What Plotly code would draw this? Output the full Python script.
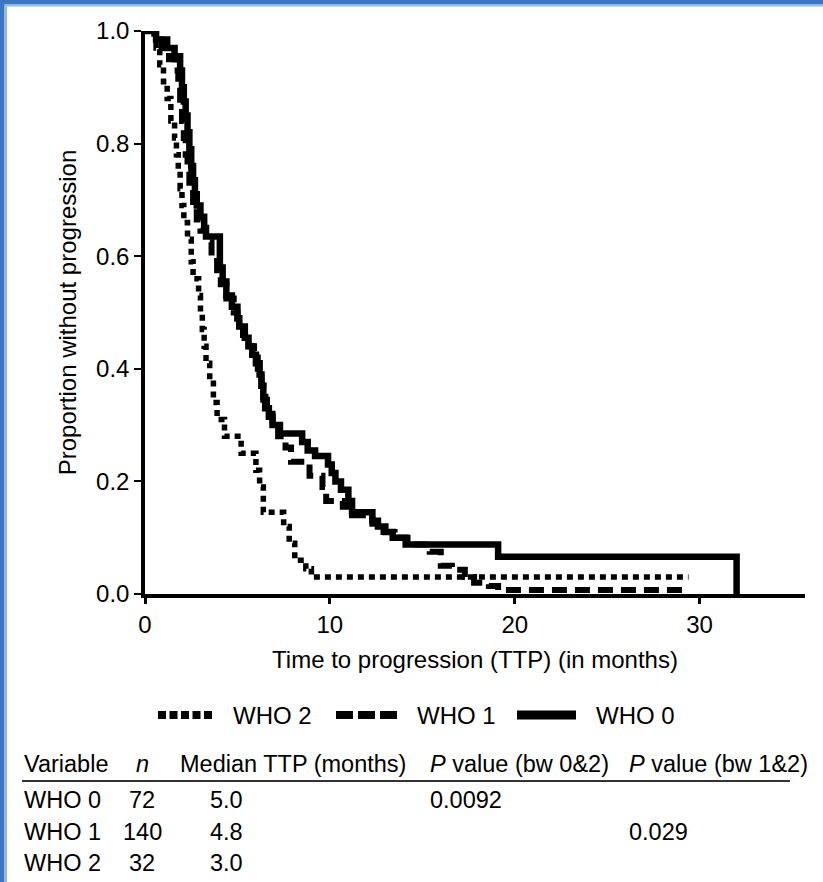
import plotly.graph_objects as go

# ---------------- data ----------------
who0_t = [0, 0.6, 1.2, 1.6, 1.9, 2.0, 2.1, 2.2, 2.3, 2.4, 2.5, 2.6, 2.7, 2.8, 3.0, 3.2, 3.3,
          4.05, 4.2, 4.4, 4.7, 5.0, 5.1, 5.4, 5.6, 5.8, 6.0, 6.2, 6.3, 6.4, 6.5, 6.7, 6.9, 7.3,
          8.5, 8.8, 9.2, 9.9, 10.1, 10.3, 10.6, 11.0, 11.2, 12.3, 12.6, 13.0, 13.4, 14.1, 19.1, 32.0]
who0_s = [1.0, 0.985, 0.97, 0.955, 0.93, 0.90, 0.875, 0.85, 0.82, 0.79, 0.76, 0.735, 0.71, 0.69, 0.67, 0.65, 0.635,
          0.58, 0.555, 0.53, 0.51, 0.49, 0.475, 0.455, 0.44, 0.425, 0.41, 0.39, 0.37, 0.35, 0.33, 0.315, 0.30, 0.285,
          0.27, 0.255, 0.245, 0.23, 0.215, 0.20, 0.185, 0.165, 0.145, 0.13, 0.12, 0.11, 0.10, 0.088, 0.066, 0.0]

who1_t = [0, 0.5, 0.9, 1.3, 1.6, 1.8, 1.9, 2.0, 2.1, 2.2, 2.3, 2.4, 2.6, 2.8, 3.0, 3.3, 3.6, 3.9, 4.1, 4.4,
          4.8, 5.0, 5.3, 5.6, 5.9, 6.1, 6.3, 6.4, 6.6, 6.9, 7.2, 7.6, 7.9, 8.9, 9.6, 9.8, 10.7, 11.2, 12.3,
          12.9, 13.5, 14.2, 15.4, 16.0, 16.6, 17.3, 17.8, 18.6, 19.1, 29.2]
who1_s = [1.0, 0.985, 0.97, 0.95, 0.93, 0.90, 0.87, 0.84, 0.81, 0.78, 0.75, 0.72, 0.69, 0.665, 0.645, 0.625, 0.60, 0.575, 0.55, 0.525,
          0.50, 0.48, 0.46, 0.44, 0.42, 0.40, 0.37, 0.345, 0.32, 0.30, 0.28, 0.26, 0.235, 0.21, 0.19, 0.165, 0.155, 0.14, 0.125,
          0.11, 0.10, 0.088, 0.075, 0.05, 0.043, 0.03, 0.02, 0.014, 0.007, 0.007]

who2_t = [0, 0.6, 0.8, 1.0, 1.2, 1.4, 1.6, 1.7, 1.8, 1.9, 2.0, 2.1, 2.3, 2.5, 2.6, 2.9, 3.0, 3.1, 3.2, 3.3,
          3.5, 3.7, 3.9, 4.3, 5.2, 6.0, 6.2, 6.4, 7.5, 7.8, 8.1, 8.7, 9.0, 29.4]
who2_s = [1.0, 0.97, 0.94, 0.91, 0.88, 0.84, 0.81, 0.78, 0.75, 0.72, 0.69, 0.66, 0.63, 0.59, 0.56, 0.53, 0.50, 0.47, 0.44, 0.41,
          0.38, 0.34, 0.31, 0.28, 0.25, 0.22, 0.19, 0.145, 0.12, 0.09, 0.06, 0.045, 0.03, 0.03]

x_ticks = [0, 10, 20, 30]
y_ticks = [0.0, 0.2, 0.4, 0.6, 0.8, 1.0]

legend_names = ["WHO 2", "WHO 1", "WHO 0"]

table_header = ["Variable", "<i>n</i>", "Median TTP (months)", "<i>P</i> value (bw 0&2)", "<i>P</i> value (bw 1&2)"]
table_variable = ["WHO 0", "WHO 1", "WHO 2"]
table_n = ["72", "140", "32"]
table_median = ["5.0", "4.8", "3.0"]
table_p02 = ["0.0092", "", ""]
table_p12 = ["", "0.029", ""]

# ---------------- layout geometry ----------------
W, H = 823, 882
ML, MR, MT, MB = 145, 18, 31, 288
PW = W - ML - MR
PH = H - MT - MB
FONT = "Liberation Sans, Arial, sans-serif"


def px(xp):
    return (xp - ML) / PW


def py(yp):
    return (H - MB - yp) / PH


fig = go.Figure()

fig.add_trace(go.Scatter(x=who0_t, y=who0_s, mode="lines", name=legend_names[2],
                         line=dict(color="black", width=6.5, shape="hv"), showlegend=False))
fig.add_trace(go.Scatter(x=who1_t, y=who1_s, mode="lines", name=legend_names[1],
                         line=dict(color="black", width=6, shape="hv", dash="15px,8px"), showlegend=False))
fig.add_trace(go.Scatter(x=who2_t, y=who2_s, mode="lines", name=legend_names[0],
                         line=dict(color="black", width=5.5, shape="hv", dash="6px,5px"), showlegend=False))

shapes = []
annotations = []

# blue frame (top & left)
shapes.append(dict(type="rect", xref="paper", yref="paper", x0=px(0), x1=px(W), y0=py(0), y1=py(4),
                   fillcolor="#3b76c3", line=dict(width=0), layer="above"))
shapes.append(dict(type="rect", xref="paper", yref="paper", x0=px(4.5), x1=px(W), y0=py(4), y1=py(6.5),
                   fillcolor="#95b4e0", line=dict(width=0), layer="above"))
shapes.append(dict(type="rect", xref="paper", yref="paper", x0=px(0), x1=px(4.5), y0=py(0), y1=py(H),
                   fillcolor="#3b76c3", line=dict(width=0), layer="above"))
shapes.append(dict(type="rect", xref="paper", yref="paper", x0=px(4.5), x1=px(7), y0=py(6.5), y1=py(H),
                   fillcolor="#95b4e0", line=dict(width=0), layer="above"))

# legend (manual)
LEG_Y = 715
leg_specs = [
    (158, 214, 8, "8px,3.5px", 231),
    (336, 398, 8, "17px,5px", 415),
    (517, 576, 9, "solid", 594),
]
for (x0, x1, wdt, dsh, tx), name in zip(leg_specs, legend_names):
    shapes.append(dict(type="line", xref="paper", yref="paper", x0=px(x0), x1=px(x1),
                       y0=py(LEG_Y), y1=py(LEG_Y), line=dict(color="black", width=wdt, dash=dsh)))
    annotations.append(dict(xref="paper", yref="paper", x=px(tx), y=py(LEG_Y), text=name,
                            showarrow=False, xanchor="left", yanchor="middle",
                            font=dict(size=24, color="black", family=FONT)))

# table
TF = 23.5
col_x = [22, 142, 178, 428, 627]
col_anchor = ["left", "center", "left", "left", "left"]
HEAD_Y = 764
for txt, cx, anc in zip(table_header, col_x, col_anchor):
    annotations.append(dict(xref="paper", yref="paper", x=px(cx), y=py(HEAD_Y), text=txt,
                            showarrow=False, xanchor=anc, yanchor="middle",
                            font=dict(size=TF, color="black", family=FONT)))
shapes.append(dict(type="line", xref="paper", yref="paper", x0=px(22), x1=px(790),
                   y0=py(781), y1=py(781), line=dict(color="#333333", width=2)))

row_y = [800, 832, 863]
row_cols = [(22, "left"), (142, "center"), (226, "center"), (428, "left"), (627, "left")]
for i, ry in enumerate(row_y):
    vals = [table_variable[i], table_n[i], table_median[i], table_p02[i], table_p12[i]]
    for v, (cx, anc) in zip(vals, row_cols):
        if v == "":
            continue
        annotations.append(dict(xref="paper", yref="paper", x=px(cx), y=py(ry), text=v,
                                showarrow=False, xanchor=anc, yanchor="middle",
                                font=dict(size=TF, color="black", family=FONT)))

fig.update_layout(
    width=W, height=H,
    margin=dict(l=ML, r=MR, t=MT, b=MB, pad=0),
    paper_bgcolor="white", plot_bgcolor="white",
    font=dict(family=FONT, size=24, color="black"),
    shapes=shapes, annotations=annotations,
    showlegend=False,
    xaxis=dict(range=[0, 35.7], tickvals=x_ticks, ticktext=[str(v) for v in x_ticks],
               showgrid=False, zeroline=False, showline=True, linecolor="black", linewidth=3.5,
               ticks="outside", ticklen=6, tickwidth=2.5, tickcolor="black",
               tickfont=dict(size=24, family=FONT, color="black"),
               title=dict(text="Time to progression (TTP) (in months)", standoff=16,
                          font=dict(size=24, family=FONT, color="black"))),
    yaxis=dict(range=[0, 1], tickvals=y_ticks, ticktext=["%.1f" % v for v in y_ticks],
               showgrid=False, zeroline=False, showline=True, linecolor="black", linewidth=3.5,
               ticks="outside", ticklen=7, tickwidth=2, tickcolor="black",
               tickfont=dict(size=24, family=FONT, color="black"),
               title=dict(text="Proportion without progression", standoff=14,
                          font=dict(size=24, family=FONT, color="black"))),
)

fig.write_html("out.html",
               config={"displayModeBar": False},
               post_script="document.body.style.margin='0px';document.body.style.overflow='hidden';")
